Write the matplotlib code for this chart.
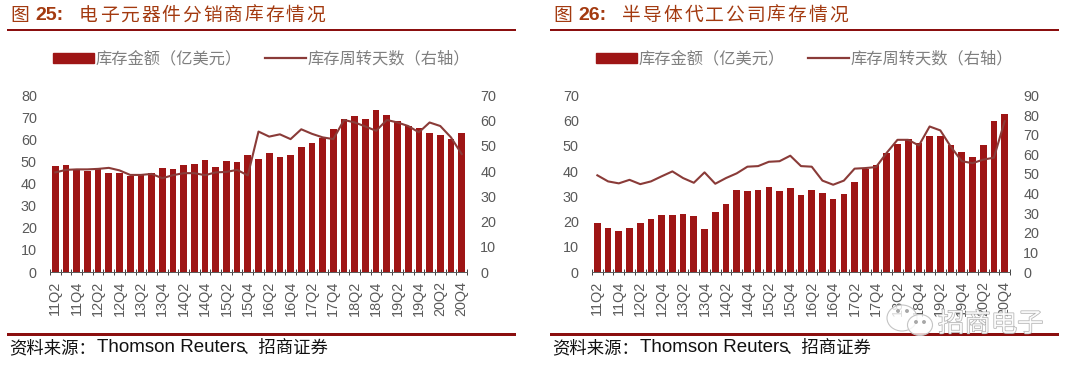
import matplotlib
matplotlib.use("Agg")
import matplotlib.pyplot as plt
import matplotlib.patheffects as pe
from matplotlib.patches import Patch, Ellipse, Rectangle
from matplotlib.lines import Line2D

quarters = [f"{y}Q{q}" for y in range(11, 21) for q in (1, 2, 3, 4)][1:]
tick_labels = quarters[::2]

bars_25 = [48, 48.5, 46.5, 46, 46.5, 45, 44.7, 43.5, 44.3, 44.7, 47.1, 46.8, 48.5, 49, 50.8, 47.7, 50.2, 49.9,
           52.9, 51, 53.8, 52.1, 53, 56.7, 58.6, 60.6, 64.8, 69.2, 70.9, 69.4, 73.4, 71.2, 68.6, 66.2, 65.4,
           62.9, 62.1, 60.2, 62.9]
line_25 = [39.5, 40.5, 40.7, 40.7, 40.9, 41.3, 40.3, 38.5, 38.5, 38.9, 37.2, 38.4, 39.2, 39.2, 38.4, 39.5, 39.7,
           40.5, 38.3, 55.7, 53.7, 54.6, 52.7, 56.6, 54.8, 53.4, 52.7, 60.3, 59.3, 57.7, 56, 60.3, 59.3, 57.9,
           55.4, 59.3, 57.9, 53.4, 46.8]
bars_26 = [19.6, 17.3, 16.3, 17.6, 19.6, 20.9, 22.6, 22.6, 22.9, 22.1, 17.1, 23.8, 27, 32.4, 32.2, 32.4, 33.7,
           32.2, 33.5, 30.6, 32.4, 31.5, 29.1, 31.1, 35.6, 41, 42.3, 47.2, 50.7, 52.9, 51, 54, 54, 50.2, 47.4,
           45.8, 50.4, 59.7, 62.6]
line_26 = [49.3, 46.2, 45.2, 47, 44.8, 46.2, 48.8, 51.3, 47.9, 45.5, 50.8, 45, 47.9, 50.3, 53.7, 54, 56.2, 56.5,
           59.3, 54, 53.7, 46.6, 44.5, 46.6, 52.7, 53, 53.5, 60.8, 67.4, 67.4, 64.5, 74.2, 72.2, 63.7, 56.5,
           55.5, 57.3, 58.3, 76.9]

bar_name = "库存金额（亿美元）"
line_name = "库存周转天数（右轴）"
title_25 = "电子元器件分销商库存情况"
title_26 = "半导体代工公司库存情况"

W, H = 1080, 371
BAR = "#9E1515"
LINE = "#8A3B38"
RULE = "#8B0F0F"
TITLE = "#A33A10"
GRAY = "#595959"
CJK = ["Noto Sans CJK SC", "Liberation Sans"]
LAT = ["Liberation Sans", "Noto Sans CJK SC"]

fig = plt.figure(figsize=(W / 100, H / 100), dpi=100, facecolor="white")


def fx(x):
    return x / W


def fy(y):
    return 1 - y / H


def panel(x0, x1, bars, line, ymax, rmax, rstep, num, title, rx0, rx1, tx, leg_x):
    y0, y1 = 272, 95.5
    ax = fig.add_axes([fx(x0), fy(y0), fx(x1 - x0), (y0 - y1) / H])
    xs = list(range(len(bars)))
    ax.bar(xs, bars, width=0.62, color=BAR, zorder=2)
    ax.set_xlim(-0.5, len(bars) - 0.5)
    ax.set_ylim(0, ymax)
    ax.set_yticks(range(0, ymax + 1, 10))
    ax.set_xticks(xs[::2])
    ax.set_xticklabels(tick_labels, rotation=90, family=LAT, fontsize=10.4, color=GRAY)
    ax.set_xticks([i - 0.5 for i in range(len(bars) + 1)], minor=True)
    ax.tick_params(axis="x", which="major", length=0, pad=6.5)
    ax.tick_params(axis="x", which="minor", length=5, width=0.7, color="#404040", direction="inout")
    ax.tick_params(axis="y", length=0, pad=9.5, labelsize=10.4, labelcolor=GRAY)
    for lab in ax.get_yticklabels():
        lab.set_family(LAT)
    for s in ("top", "left", "right"):
        ax.spines[s].set_visible(False)
    ax.spines["bottom"].set_color("#595959")
    ax.spines["bottom"].set_linewidth(0.7)
    ax.set_facecolor("none")

    ar = ax.twinx()
    ar.plot(xs, line, color=LINE, lw=1.5, zorder=3)
    ar.set_ylim(0, rmax)
    ar.set_yticks(range(0, rmax + 1, rstep))
    ar.tick_params(axis="y", length=0, pad=9.5, labelsize=10.4, labelcolor=GRAY)
    for lab in ar.get_yticklabels():
        lab.set_family(LAT)
    for s in ("top", "left", "right", "bottom"):
        ar.spines[s].set_visible(False)

    fig.legend(
        handles=[Patch(color=BAR, label=bar_name), Line2D([], [], color=LINE, lw=1.6, label=line_name)],
        loc="center left", bbox_to_anchor=(fx(leg_x), fy(59)), frameon=False, ncol=2,
        prop={"family": CJK, "size": 11.7}, labelcolor="#7F7F7F", handlelength=2.5, handleheight=0.62,
        handletextpad=0.12, columnspacing=1.45, borderpad=0, borderaxespad=0,
    )

    # headline: glyphs set with the wide tracking of the original
    fig.text(fx(tx + 1), fy(15), "图", family=CJK, fontsize=13.5, fontweight="medium", color=TITLE, va="center")
    fig.text(fx(tx + 26), fy(15), num + ":", family=LAT, fontsize=14, fontweight="bold", color=TITLE, va="center")
    for i, ch in enumerate(title):
        fig.text(fx(tx + 70 + i * 20.7), fy(15), ch, family=CJK, fontsize=13.5, fontweight="medium",
                 color=TITLE, va="center")

    fig.add_artist(Rectangle((fx(rx0), fy(31)), fx(rx1 - rx0), 2.4 / H, color=RULE, transform=fig.transFigure, lw=0))
    fig.add_artist(Rectangle((fx(rx0), fy(335.5)), fx(rx1 - rx0), 2.6 / H, color=RULE, transform=fig.transFigure, lw=0))

    fig.text(fx(tx), fy(348), "资料来源：", family=CJK, fontsize=12.5, color="#111111", va="center")
    fig.text(fx(tx + 88), fy(348), "Thomson Reuters", family=LAT, fontsize=13.5, color="#111111", va="center")
    fig.text(fx(tx + 232), fy(348), "、招商证券", family=CJK, fontsize=12.5, color="#111111", va="center")


panel(50, 467, bars_25, line_25, 80, 70, 10, "25", title_25, 7, 516, 9, 53)
panel(592, 1010, bars_26, line_26, 70, 90, 10, "26", title_26, 550, 1059, 552, 596)

# watermark
wm = dict(facecolor=(1, 1, 1, 0.8), edgecolor="#C4C4C4", lw=0.8, transform=fig.transFigure, zorder=20)
dpx = 1 / W
dpy = 1 / H
fig.add_artist(Ellipse((fx(902), fy(318)), 30 * dpx, 26 * dpy, **wm))
fig.add_artist(Ellipse((fx(920), fy(325)), 25 * dpx, 21 * dpy, **wm))
dot = dict(color="#A8A8A8", transform=fig.transFigure, zorder=21)
for cx, cy in ((898, 311), (907, 311), (916, 322), (924, 322)):
    fig.add_artist(Ellipse((fx(cx), fy(cy)), 2.5 * dpx, 2.5 * dpy, **dot))
fig.text(fx(938), fy(324), "招商电子", family=CJK, fontsize=19, color=(1, 1, 1, 0.85), va="center", zorder=21,
         path_effects=[pe.withStroke(linewidth=0.9, foreground="#ABABAB")])

fig.savefig("out.png", dpi=100)
